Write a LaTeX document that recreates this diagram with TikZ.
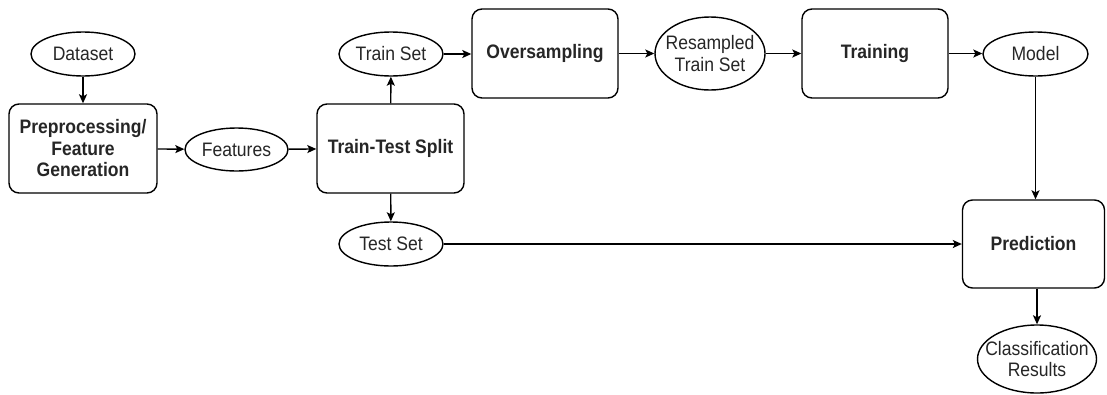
\documentclass[tikz,border=0pt]{standalone}
\usepackage{fontspec}
\setmainfont{Liberation Sans}[FakeStretch=0.9]
\usetikzlibrary{shapes.geometric,arrows.meta}
\begin{document}
\begin{tikzpicture}[x=1pt,y=-1pt,
  line width=1.4pt,
  txt/.style={font=\fontsize{19.5}{21.5}\selectfont, text=black!85},
  proc/.style={txt, draw, rounded corners=10pt, minimum width=147pt, minimum height=89pt,
    align=center, inner sep=0pt, font=\fontsize{19.5}{21.5}\selectfont\bfseries},
  data/.style={txt, draw, ellipse, minimum width=104pt, minimum height=44pt,
    inner xsep=-12pt, inner ysep=0pt, align=center},
  flow/.style={-{Stealth[length=9pt,width=8pt,inset=2pt]}}]
  \useasboundingbox (0,0) rectangle (1107,394);

  % pipeline stages
  \node[data] (dataset)  at (83,54)      {Dataset};
  \node[proc, minimum width=148pt] (prep) at (83,148.5) {Preprocessing/\\Feature\\Generation};
  \node[data, minimum width=103pt, minimum height=43pt] (feat) at (236.5,149.5) {Features};
  \node[proc] (split)    at (390.5,148.5) {Train-Test Split};
  \node[data] (trainset) at (391,54)     {Train Set};
  \node[data] (testset)  at (391,244)    {Test Set};
  \node[proc, minimum width=146pt] (over) at (545,53.5) {Oversampling};
  \node[data, minimum width=110pt, minimum height=73pt] (resamp) at (710,53.5) {Resampled\\Train Set};
  \node[proc, minimum width=146pt] (train) at (875,53.5) {Training};
  \node[data, minimum width=105pt] (model) at (1035.5,54) {Model};
  \node[proc, minimum width=142pt, minimum height=88pt] (pred) at (1033.5,244) {Prediction};
  \node[data, minimum width=119pt, minimum height=68pt] (results) at (1037,359) {Classification\\Results};

  % connectors
  \draw[flow] (dataset) -- (prep);
  \draw[flow] (prep) -- (feat);
  \draw[flow] (feat) -- (split);
  \draw[flow] (split) -- (trainset);
  \draw[flow] (split) -- (testset);
  \draw[flow] (trainset.east) -- (trainset.east -| over.west);
  \draw[flow] (over.east) -- (over.east -| resamp.west);
  \draw[flow] (resamp.east) -- (resamp.east -| train.west);
  \draw[flow] (train.east) -- (train.east -| model.west);
  \draw[flow] (model.south) -- (model.south |- pred.north);
  \draw[flow] (testset.east) -- (testset.east -| pred.west);
  \draw[flow] (pred.south -| results.north) -- (results.north);
\end{tikzpicture}
\end{document}
